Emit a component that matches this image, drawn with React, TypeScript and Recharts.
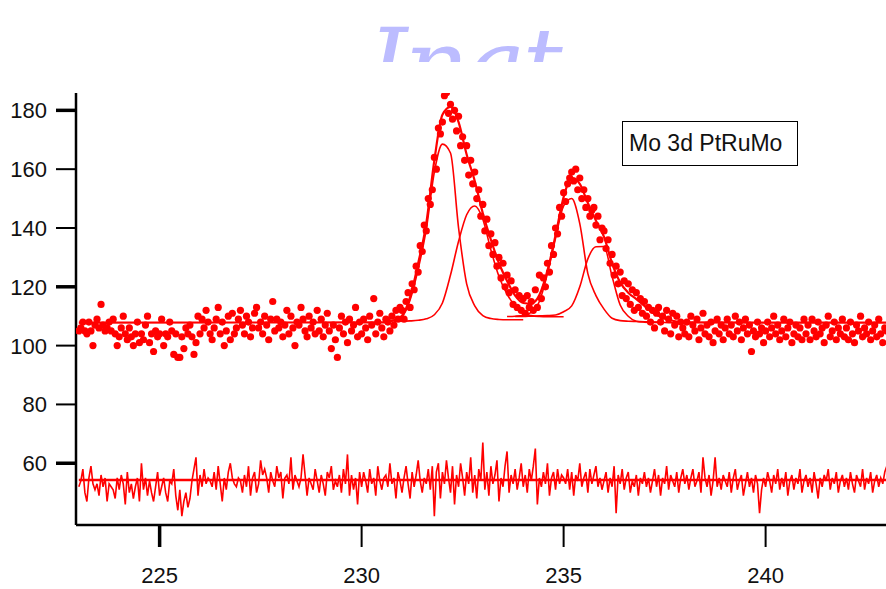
import { ComposedChart, XAxis, YAxis, Line, Scatter } from "recharts";

// binding energy grid of the measured spectrum (eV)
const scanStart = 223;
const scanStep = 0.05;

// measured counts, one row per eV
const counts = [
  105, 106, 108, 105, 104, 108, 105, 100, 107, 109, 106, 114, 107, 105, 106, 108, 105, 109, 104, 100,
  103, 106, 110, 104, 102, 106, 103, 100, 104, 108, 101, 104, 102, 107, 110, 101, 104, 98, 105, 103,
  104, 109, 100, 104, 103, 108, 105, 97, 104, 96, 96, 103, 99, 106, 104, 107, 103, 97, 101, 110,
  104, 109, 106, 112, 108, 104, 102, 106, 109, 113, 104, 108, 100, 105, 110, 102, 111, 104, 106, 109,
  112, 107, 104, 110, 108, 103, 106, 111, 113, 106, 108, 104, 110, 107, 102, 109, 115, 105, 109, 106,
  108, 103, 107, 112, 104, 110, 106, 100, 108, 107, 113, 109, 105, 103, 110, 106, 108, 104, 112, 105,
  109, 103, 107, 111, 105, 99, 107, 102, 96, 106, 110, 104, 108, 101, 109, 105, 107, 113, 103, 108,
  104, 109, 106, 102, 110, 107, 116, 104, 108, 111, 106, 103, 109, 108, 105, 110, 107, 112, 109, 113,
  112, 109, 115, 118, 113, 121, 119, 127, 125, 134, 132, 141, 139, 150, 148, 153, 164, 160, 174, 172,
  176, 185, 186, 179, 182, 177, 180, 173, 178, 168, 171, 163, 168, 158, 163, 155, 159, 150, 153, 144,
  148, 139, 143, 134, 138, 131, 135, 127, 130, 123, 128, 120, 124, 118, 122, 114, 119, 113, 117, 112,
  116, 111, 117, 113, 115, 112, 119, 113, 124, 116, 123, 120, 128, 125, 134, 131, 140, 138, 147, 144,
  152, 149, 155, 157, 159, 156, 160, 153, 157, 150, 153, 147, 150, 144, 146, 147, 141, 144, 136, 140,
  139, 133, 136, 128, 131, 124, 127, 121, 125, 117, 122, 116, 121, 114, 119, 112, 118, 113, 116, 111,
  115, 110, 113, 108, 112, 106, 111, 113, 108, 110, 105, 112, 109, 104, 111, 107, 110, 103, 108, 106,
  104, 108, 103, 110, 107, 105, 109, 102, 106, 111, 104, 107, 103, 108, 101, 105, 109, 104, 107, 102,
  106, 109, 104, 107, 103, 110, 105, 108, 102, 106, 109, 104, 107, 98, 105, 103, 108, 104, 106, 101,
  105, 108, 103, 106, 110, 104, 107, 102, 105, 109, 103, 106, 108, 101, 104, 107, 103, 106, 102, 109,
  104, 107, 102, 109, 105, 103, 108, 104, 106, 101, 107, 110, 103, 105, 108, 102, 106, 104, 109, 103,
  106, 102, 108, 104, 101, 107, 105, 110, 103, 106, 104, 108, 102, 105, 107, 103, 109, 104, 101, 106,
  105,
];

// fit residual, drawn with an offset under the spectrum
const residual = [
  52, 54, 58, 50, 47, 55, 59, 53, 51, 53, 49, 56, 52, 55, 47, 53, 52, 51, 48, 55,
  51, 56, 53, 46, 57, 50, 53, 48, 52, 55, 47, 60, 51, 55, 49, 54, 50, 47, 52, 57,
  49, 52, 55, 50, 47, 54, 53, 58, 49, 44, 51, 42, 47, 50, 45, 48, 54, 58, 62, 49,
  56, 52, 58, 53, 55, 54, 52, 57, 51, 59, 53, 47, 55, 51, 57, 60, 55, 53, 52, 55,
  54, 50, 56, 52, 59, 49, 55, 57, 50, 53, 61, 56, 58, 55, 50, 57, 54, 52, 59, 55,
  57, 48, 55, 56, 53, 62, 51, 56, 54, 52, 55, 63, 56, 49, 55, 53, 51, 58, 54, 50,
  56, 53, 49, 57, 55, 59, 51, 54, 52, 56, 50, 58, 53, 63, 49, 56, 51, 55, 46, 57,
  52, 57, 54, 50, 58, 53, 55, 49, 59, 54, 51, 55, 56, 52, 60, 53, 55, 48, 57, 54,
  50, 55, 59, 53, 48, 57, 52, 56, 61, 54, 50, 55, 53, 58, 51, 59, 42, 57, 60, 48,
  57, 53, 61, 55, 50, 59, 46, 56, 52, 60, 55, 49, 57, 53, 62, 50, 56, 48, 58, 54,
  67, 51, 57, 49, 59, 53, 56, 61, 47, 55, 52, 59, 64, 50, 56, 53, 58, 51, 55, 60,
  52, 56, 50, 58, 54, 59, 65, 46, 55, 52, 57, 53, 60, 49, 55, 57, 51, 58, 53, 56,
  55, 53, 58, 51, 57, 49, 56, 54, 60, 52, 55, 57, 50, 58, 53, 56, 59, 52, 55, 51,
  54, 57, 50, 55, 52, 59, 43, 56, 53, 58, 51, 55, 57, 50, 54, 52, 56, 49, 55, 53,
  57, 52, 55, 50, 54, 58, 52, 56, 49, 55, 53, 59, 51, 56, 54, 52, 57, 50, 55, 58,
  53, 56, 51, 55, 58, 52, 54, 57, 50, 62, 55, 52, 56, 49, 54, 62, 52, 55, 51, 56,
  54, 52, 57, 50, 55, 58, 51, 54, 56, 49, 53, 57, 52, 55, 50, 56, 53, 43, 51, 55,
  52, 57, 54, 50, 56, 53, 58, 51, 55, 52, 57, 49, 54, 56, 51, 55, 53, 58, 50, 54,
  56, 52, 55, 50, 57, 53, 48, 55, 52, 56, 54, 58, 51, 55, 53, 57, 50, 54, 56, 52,
  55, 51, 57, 53, 50, 56, 54, 52, 58, 51, 55, 53, 57, 50, 54, 56, 52, 55, 53, 57,
  59,
];
const residualZeroE = [223, 243];
const residualZeroV = [54.3, 54.3];

// total fit envelope
const envelopeE = [
  223.0, 230.6, 230.8, 231.0, 231.2, 231.4, 231.6, 231.8, 232.0, 232.2, 232.4, 232.6, 232.8,
  233.0, 233.2, 233.4, 233.6, 233.8, 234.0, 234.2, 234.4, 234.6, 234.8, 235.0, 235.2, 235.4,
  235.6, 235.8, 236.0, 236.2, 236.4, 236.6, 236.8, 237.0, 237.2, 237.4, 237.6, 237.8, 238.0, 243.0,
];
const envelopeV = [
  107.8, 107.9, 108.6, 110.2, 116.5, 128, 141.5, 163, 178.5, 181.2, 176, 165, 156,
  145, 136, 128, 122, 117, 114.5, 114.3, 117.2, 125.5, 137.5, 150.5, 157, 155,
  148.5, 142.5, 137, 128, 121.5, 118, 115.8, 113.5, 111.2, 109.8, 108.8, 108.2, 107.9, 107.8,
];

// Mo 3d5/2 and 3d3/2 components
const comp1E = [230.6, 230.8, 231.0, 231.2, 231.4, 231.6, 231.8, 232.0, 232.2, 232.4, 232.6, 232.8, 233.0, 233.2, 233.4, 233.6, 233.8, 234.0];
const comp1V = [108.3, 108.5, 109.8, 115.5, 126, 139.5, 159, 168.5, 165.5, 140, 121, 113.5, 110.2, 109.2, 108.9, 108.8, 108.8, 108.8];
const comp2E = [230.8, 231.0, 231.2, 231.4, 231.6, 231.8, 232.0, 232.2, 232.4, 232.6, 232.8, 233.0, 233.2, 233.4, 233.6, 233.8, 234.0, 234.2, 234.4, 234.6, 234.8, 235.0];
const comp2V = [108.3, 108.3, 108.4, 108.6, 109.1, 110.5, 114.5, 124, 135.5, 144.5, 147.5, 143, 132.5, 123.5, 117.5, 113.5, 111, 110.2, 109.9, 109.8, 109.8, 109.8];
const comp3E = [233.6, 233.8, 234.0, 234.2, 234.4, 234.6, 234.8, 235.0, 235.2, 235.4, 235.6, 235.8, 236.0, 236.2, 236.4, 236.6, 236.8, 237.0, 237.2, 237.4];
const comp3V = [109.9, 110, 110.3, 111.3, 115, 124.5, 136.5, 147.5, 150, 141.5, 124.5, 117, 112.4, 109.3, 108.5, 108.3, 108.2, 108.1, 108, 108];
const comp4E = [233.8, 234.0, 234.2, 234.4, 234.6, 234.8, 235.0, 235.2, 235.4, 235.6, 235.8, 236.0, 236.2, 236.4, 236.6, 236.8, 237.0, 237.2, 237.4, 237.6, 237.8, 238.0];
const comp4V = [109.9, 109.9, 110, 110.1, 110.2, 110.4, 111.5, 113.5, 120, 129.5, 133.6, 133.7, 123.5, 113.8, 110, 108.3, 108, 107.9, 107.9, 107.8, 107.8, 107.8];

const xTicks = [225, 230, 235, 240];
const yTicks = [60, 80, 100, 120, 140, 160, 180];
const heavyX = [225];
const heavyY = [60, 120, 180];

const legendText = "Mo 3d PtRuMo";
const watermark = "Inat";

const RED = "#ff0000";
const FONT = '"Liberation Sans", Arial, sans-serif';

const toPts = (es: number[], vs: number[]) => vs.map((v, i) => ({ e: es[i], v }));

const measured = counts.map((v, i) => ({ e: Math.round((scanStart + i * scanStep) * 100) / 100, v }));
const resid = residual.map((v, i) => ({ e: Math.round((scanStart + i * scanStep) * 100) / 100, v }));

const XTick = ({ x, y, payload }: any) => {
  const heavy = heavyX.includes(payload.value);
  return (
    <g>
      <line x1={x} x2={x} y1={y} y2={y + 22} stroke="#000" strokeWidth={heavy ? 3.5 : 2} />
      <text x={x} y={y + 58} textAnchor="middle" fontSize={22} fontFamily={FONT} fill="#111">
        {payload.value}
      </text>
    </g>
  );
};

const YTick = ({ x, y, payload }: any) => {
  const heavy = heavyY.includes(payload.value);
  return (
    <g>
      <line x1={x - 20} x2={x} y1={y} y2={y} stroke="#000" strokeWidth={heavy ? 3.5 : 2} />
      <text x={x - 29} y={y + 8} textAnchor="end" fontSize={22} fontFamily={FONT} fill="#111">
        {payload.value}
      </text>
    </g>
  );
};

const Dot = (p: any) => <circle cx={p.cx} cy={p.cy} r={3.6} fill={RED} />;

export default function App() {
  return (
    <div style={{ position: "absolute", left: 0, top: 0, width: 886, height: 589, background: "#fff", overflow: "hidden" }}>
      {/* faded watermark, cut off by the top of the plot like in the scan */}
      <svg width={886} height={62} style={{ position: "absolute", left: 0, top: 0 }}>
        <text x={368} y={99} fontSize={100} fontStyle="italic" fontFamily="DejaVu Serif" fill="#bcbcff" letterSpacing={-3}>
          {watermark}
        </text>
      </svg>
      <ComposedChart width={886} height={589} margin={{ top: 93, right: 0, bottom: 0, left: 0 }}>
        <XAxis
          type="number"
          dataKey="e"
          domain={[222.93, 242.98]}
          allowDataOverflow
          ticks={xTicks}
          height={64}
          tickSize={0}
          tickMargin={0}
          tickLine={false}
          tick={<XTick />}
          axisLine={{ stroke: "#000", strokeWidth: 2.5 }}
        />
        <YAxis
          type="number"
          dataKey="v"
          domain={[39, 185.9]}
          allowDataOverflow
          ticks={yTicks}
          width={76}
          tickSize={0}
          tickMargin={0}
          tickLine={false}
          tick={<YTick />}
          axisLine={{ stroke: "#000", strokeWidth: 2.5 }}
        />
        <Scatter data={measured} dataKey="v" shape={Dot} isAnimationActive={false} />
        <Line data={toPts(residualZeroE, residualZeroV)} dataKey="v" type="linear" stroke={RED} strokeWidth={2.5} dot={false} activeDot={false} isAnimationActive={false} />
        <Line data={resid} dataKey="v" type="linear" stroke={RED} strokeWidth={1.6} dot={false} activeDot={false} isAnimationActive={false} />
        <Line data={toPts(comp1E, comp1V)} dataKey="v" type="monotone" stroke={RED} strokeWidth={1.6} dot={false} activeDot={false} isAnimationActive={false} />
        <Line data={toPts(comp2E, comp2V)} dataKey="v" type="monotone" stroke={RED} strokeWidth={1.6} dot={false} activeDot={false} isAnimationActive={false} />
        <Line data={toPts(comp3E, comp3V)} dataKey="v" type="monotone" stroke={RED} strokeWidth={1.6} dot={false} activeDot={false} isAnimationActive={false} />
        <Line data={toPts(comp4E, comp4V)} dataKey="v" type="monotone" stroke={RED} strokeWidth={1.6} dot={false} activeDot={false} isAnimationActive={false} />
        <Line data={toPts(envelopeE, envelopeV)} dataKey="v" type="monotone" stroke={RED} strokeWidth={2.2} dot={false} activeDot={false} isAnimationActive={false} />
      </ComposedChart>
      <div
        style={{
          position: "absolute",
          left: 622,
          top: 121,
          width: 176,
          height: 45,
          boxSizing: "border-box",
          border: "1.5px solid #000",
          background: "#fff",
          fontFamily: FONT,
          fontSize: 23,
          lineHeight: "42px",
          paddingLeft: 6,
          color: "#111",
          whiteSpace: "nowrap",
        }}
      >
        {legendText}
      </div>
    </div>
  );
}
